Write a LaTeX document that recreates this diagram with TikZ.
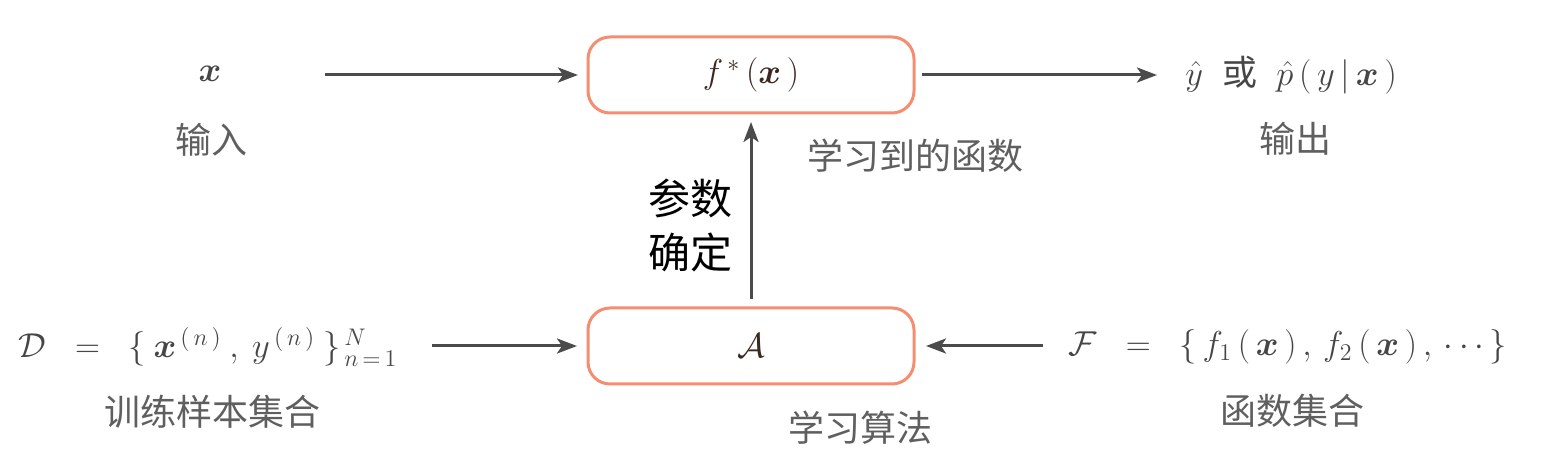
\documentclass[tikz,border=0pt]{standalone}
\usepackage{amsmath,bm}
\usepackage{fontspec}
\newfontfamily\cjk{Noto Sans CJK SC}
\usetikzlibrary{arrows.meta}
\definecolor{boxline}{RGB}{245,142,112}
\definecolor{arrowcol}{RGB}{75,75,75}
\definecolor{labelcol}{RGB}{95,95,95}
\definecolor{mathcol}{RGB}{60,40,35}
\definecolor{mathlblcol}{RGB}{70,70,70}
\tikzset{
  algbox/.style={draw=boxline, line width=1.5pt, rounded corners=11pt, fill=white,
    minimum width=163pt, minimum height=38pt, outer sep=0pt, inner sep=0pt,
    text=mathcol, font=\fontsize{17.5}{21}\selectfont},
  arr/.style={draw=arrowcol, line width=1.5pt, -{Stealth[length=10pt,width=7.5pt,inset=2.5pt]}},
  mathlbl/.style={text=mathlblcol, font=\fontsize{17.5}{21}\selectfont, inner sep=0pt},
  cnlbl/.style={text=labelcol, font=\cjk\fontsize{18}{21}\selectfont, inner sep=0pt},
  keylbl/.style={text=black, font=\cjk\fontsize{21}{27}\selectfont, align=center, inner sep=0pt}
}
\begin{document}
\begin{tikzpicture}[x=0.5pt,y=-0.5pt]
\useasboundingbox (0,0) rectangle (1547,475);
% boxes
\node[algbox] (f) at (751,75) {$f^{\,*}\,(\bm{x}\,)$};
\node[algbox] (A) at (751,346) {$\mathcal{A}$};
% top row labels
\node[mathlbl] (x) at (210,74) {$\bm{x}$};
\node[cnlbl] (xin) at (211,140) {输入};
\node[mathlbl] (out) at (1291,75) {$\hat{y}\;\;\text{\cjk 或}\;\;\hat{p}\,(\,y\,|\,\bm{x}\,)$};
\node[cnlbl] (outlbl) at (1295,139) {输出};
\node[cnlbl] (flbl) at (915,156) {学习到的函数};
% bottom row labels
\node[mathlbl] (D) at (208,347) {$\mathcal{D}\;\;=\;\;\{\mkern4mu\bm{x}^{\,(\,n\,)}\mkern4mu,\mkern4mu y^{\,(\,n\,)}\mkern4mu\}_{\,n\,=\,1}^{\,N}$};
\node[cnlbl] (Dlbl) at (212,412) {训练样本集合};
\node[mathlbl] (F) at (1288,347) {$\mathcal{F}\;\;=\;\;\{\,f_{1}\,(\,\bm{x}\,)\,,\,f_{2}\,(\,\bm{x}\,)\,,\,\cdots\,\}$};
\node[cnlbl] (Flbl) at (1292,411) {函数集合};
\node[cnlbl] (Albl) at (860,428) {学习算法};
\node[keylbl] (param) at (690,226) {参数\\确定};
% connector ends
\coordinate (xs) at (325,75);
\coordinate (outtip) at (1157,75);
\coordinate (ds) at (432,346);
\coordinate (fs) at (1043,346);
% arrows
\draw[arr, shorten >=5pt] (xs) -- (f.west);
\draw[arr, shorten <=4pt] (f.east) -- (outtip);
\draw[arr, shorten <=4.5pt, shorten >=4.5pt] (A.north) -- (f.south);
\draw[arr, shorten >=5.5pt] (ds) -- (A.west);
\draw[arr, shorten >=6pt] (fs) -- (A.east);
\end{tikzpicture}
\end{document}
